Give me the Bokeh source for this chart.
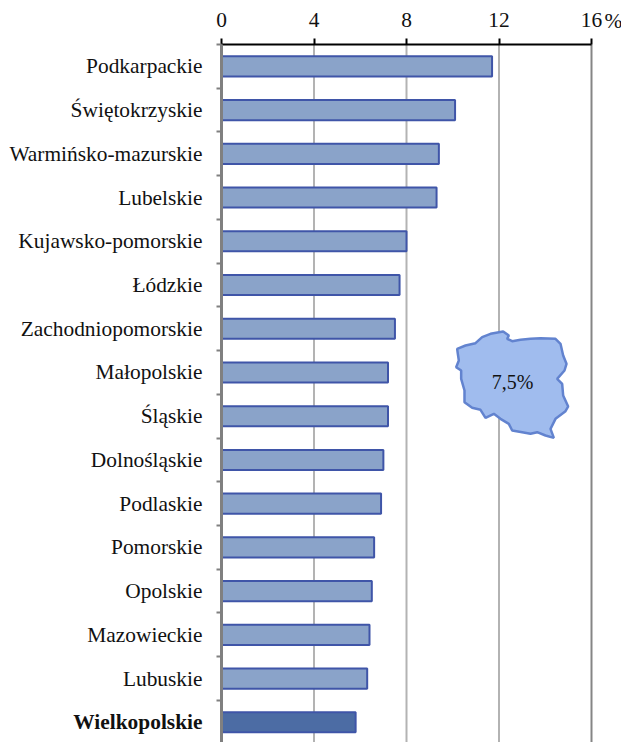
import numpy as np
from bokeh.embed import file_html
from bokeh.resources import INLINE
from bokeh.plotting import figure
from bokeh.models import Range1d, LinearAxis, FixedTicker, ColumnDataSource
from bokeh.core.properties import value

categories = ["Podkarpackie", "Świętokrzyskie", "Warmińsko-mazurskie", "Lubelskie",
              "Kujawsko-pomorskie", "Łódzkie", "Zachodniopomorskie", "Małopolskie",
              "Śląskie", "Dolnośląskie", "Podlaskie", "Pomorskie", "Opolskie",
              "Mazowieckie", "Lubuskie", "Wielkopolskie"]
rates = [11.7, 10.1, 9.4, 9.3, 8.0, 7.7, 7.5, 7.2, 7.2, 7.0, 6.9, 6.6, 6.5, 6.4, 6.3, 5.8]
x_ticks = [0, 4, 8, 12, 16]
national_label = "7,5%"
# Poland outline (pixels of the page)
map_x0 = [440 + v / 3 for v in [50,75,105,125,150,188,205,200,215,240,270,300,345,360,368,378,372,350,365,368,383,375,345,330,340,315,290,270,245,215,205,180,160,135,120,95,72,72,62,62,47,55,52]]
map_y0 = [320 + v / 3 for v in [85,75,68,50,40,33,45,55,62,58,55,53,55,70,105,130,150,175,190,225,258,272,295,325,352,345,335,340,335,330,310,295,280,292,268,262,245,210,175,150,140,120,100]]

serif = "Liberation Serif"
FS = "21.4px"
INK = "#111111"
X0, XU, Y0, YU = 221.0, 370.0 / 16, 44.0, 43.73
W, H = 621, 742

pos = np.arange(len(categories)) + 0.5
y_end = (H - Y0) / YU

p = figure(width=W, height=H, output_backend="svg", toolbar_location=None,
           x_range=Range1d(-X0 / XU, (W - X0) / XU), y_range=Range1d(y_end, -Y0 / YU),
           x_axis_location=None, y_axis_location=None,
           min_border_left=0, min_border_top=0, min_border_right=0, min_border_bottom=0)
p.outline_line_color = None
p.background_fill_color = "white"
p.xgrid.visible = False
p.ygrid.visible = False

# gridlines: 4, 8, 12 light, 16 darker
p.segment(x_ticks[1:], [0] * 4, x_ticks[1:], [y_end] * 4, line_color=["#b3b3b3", "#b3b3b3", "#b3b3b3", "#858585"],
          line_width=2, level="underlay")

colors = ["#8aa3c9"] * (len(categories) - 1) + ["#4c6ca4"]
styles = ["normal"] * (len(categories) - 1) + ["bold"]
src = ColumnDataSource(dict(y=pos, right=rates, color=colors, name=categories, style=styles, zero=[0] * len(categories)))
p.hbar(y="y", left=0, right="right", height=0.46, fill_color="color", line_color="#3f55a8", line_width=2, source=src)

top_axis = LinearAxis(ticker=FixedTicker(ticks=x_ticks), fixed_location=0, bounds=(0, 16),
                      axis_line_color="black", axis_line_width=2,
                      major_tick_line_color="black", major_tick_line_width=2, major_tick_in=0, major_tick_out=6,
                      minor_tick_line_color=None, major_label_standoff=12,
                      major_label_text_font=serif, major_label_text_font_size=FS, major_label_text_color=INK)
p.add_layout(top_axis, "above")

left_axis = LinearAxis(ticker=FixedTicker(ticks=list(range(len(categories) + 1))), fixed_location=0, bounds=(0, y_end),
                       axis_line_color="#808080", axis_line_width=3,
                       major_tick_line_color="#808080", major_tick_line_width=2, major_tick_in=0, major_tick_out=5,
                       minor_tick_line_color=None, major_label_text_color=None, major_label_text_font_size="1px")
p.add_layout(left_axis, "left")

p.text(x="zero", y="y", text="name", source=src, x_offset=-19, text_align="right", text_baseline="middle",
       text_font=value(serif), text_font_size=value(FS), text_font_style="style", text_color=INK)
p.text([16], [(20 - Y0) / YU], text=["%"], x_offset=13, text_align="left", text_baseline="middle",
       text_font=value(serif), text_font_size=value(FS), text_color=INK)

to_x = lambda px: (np.array(px) - X0) / XU
to_y = lambda py: (np.array(py) - Y0) / YU
p.patch(to_x(map_x0), to_y(map_y0), fill_color="#a0bcee", line_color="#6283cf", line_width=2.5)
p.text([(512 - X0) / XU], [(381 - Y0) / YU], text=[national_label], text_align="center", text_baseline="middle",
       text_font=value(serif), text_font_size="20px", text_color=INK)

open("out.html", "w").write(file_html(p, INLINE))
